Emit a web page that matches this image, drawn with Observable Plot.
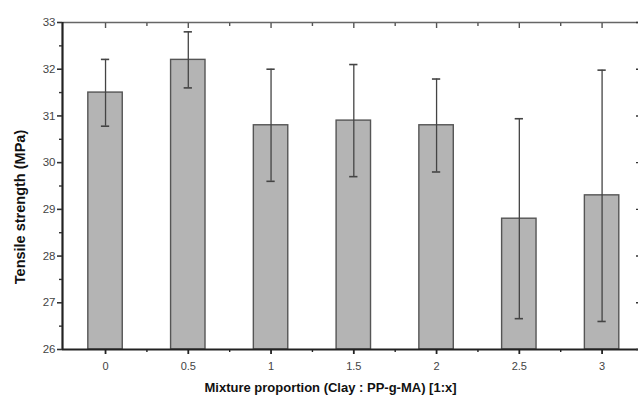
<!DOCTYPE html>
<html>
<head>
<meta charset="utf-8">
<script src="https://cdn.jsdelivr.net/npm/d3@7"></script>
<script src="https://cdn.jsdelivr.net/npm/@observablehq/plot@0.6"></script>
<style>
  html, body { margin: 0; padding: 0; background: #fff; }
  #chart { width: 638px; height: 397px; }
</style>
</head>
<body>
<div id="chart"></div>
<script>
// Data
const proportions = [0, 0.5, 1, 1.5, 2, 2.5, 3];
const tensile      = [31.5, 32.2, 30.8, 30.9, 30.8, 28.8, 29.3];
const errLow       = [30.78, 31.6, 29.6, 29.7, 29.8, 26.66, 26.6];
const errHigh      = [32.21, 32.8, 32.0, 32.1, 31.79, 30.94, 31.98];
const xTickLabels  = ["0", "0.5", "1", "1.5", "2", "2.5", "3"];
const yTicks       = [26, 27, 28, 29, 30, 31, 32, 33];
const yMinorTicks  = [26.5, 27.5, 28.5, 29.5, 30.5, 31.5, 32.5];
const xMinorTicks  = [0.25, 0.75, 1.25, 1.75, 2.25, 2.75];

const halfWidth = 0.104;
const capHalf = 0.025;
const data = proportions.map((p, i) => ({
  p, v: tensile[i], lo: errLow[i], hi: errHigh[i],
  x1: p - halfWidth, x2: p + halfWidth,
  c1: p - capHalf, c2: p + capHalf
}));

const width = 638, height = 397;
const marginLeft = 62, marginRight = 0, marginTop = 22, marginBottom = 48;

const chart = Plot.plot({
  width, height, marginLeft, marginRight, marginTop, marginBottom,
  style: { fontFamily: "Liberation Sans, Arial, sans-serif", background: "#fff", overflow: "visible" },
  x: { type: "linear", domain: [-0.26, 3.22], axis: null },
  y: { type: "linear", domain: [26, 33], axis: null },
  marks: [
    // bars
    Plot.rectY(data, { x1: "x1", x2: "x2", y1: () => 26, y2: "v", fill: "#b4b4b4", stroke: "#555", strokeWidth: 1.4 }),
    // error bars
    Plot.ruleX(data, { x: "p", y1: "lo", y2: "hi", stroke: "#444", strokeWidth: 1.3 }),
    Plot.ruleY(data, { y: "hi", x1: "c1", x2: "c2", stroke: "#444", strokeWidth: 1.6 }),
    Plot.ruleY(data, { y: "lo", x1: "c1", x2: "c2", stroke: "#444", strokeWidth: 1.6 }),
    // frame lines
    Plot.ruleY([33], { stroke: "#666", strokeWidth: 1.6 }),
    Plot.ruleY([26], { stroke: "#222", strokeWidth: 2.2 }),
    Plot.ruleX([-0.26], { stroke: "#222", strokeWidth: 2.2 }),
    // left axis: major ticks outward + labels
    Plot.axisY(yTicks, { anchor: "left", tickSize: 5, tickPadding: 2, stroke: "#333", strokeWidth: 1.6,
      fontSize: 11.5, fill: "#444", tickFormat: d => String(d) }),
    Plot.axisY(yMinorTicks, { anchor: "left", tickSize: 3, stroke: "#333", strokeWidth: 1.4, text: null }),
    // right axis: ticks inward
    Plot.axisY(yTicks, { anchor: "right", tickSize: -3, stroke: "#333", strokeWidth: 1.4, text: null }),
    // bottom axis
    Plot.axisX(proportions, { anchor: "bottom", tickSize: 5, tickPadding: 8, stroke: "#222", strokeWidth: 1.8,
      fontSize: 11, fill: "#444", tickFormat: (d, i) => xTickLabels[i] }),
    Plot.axisX(xMinorTicks, { anchor: "bottom", tickSize: 3, stroke: "#222", strokeWidth: 1.4, text: null }),
    // top axis: ticks inward
    Plot.axisX(proportions, { anchor: "top", tickSize: -5, stroke: "#555", strokeWidth: 1.4, text: null }),
    Plot.axisX(xMinorTicks, { anchor: "top", tickSize: -3, stroke: "#555", strokeWidth: 1.4, text: null }),
    // axis titles
    Plot.text(["Tensile strength (MPa)"], { frameAnchor: "left", textAnchor: "middle", dx: -42, dy: 21, rotate: -90,
      fontSize: 14.5, fontWeight: "bold", fill: "#111", letterSpacing: -0.3 }),
    Plot.text(["Mixture proportion (Clay : PP-g-MA) [1:x]"], { frameAnchor: "bottom", dx: -20, dy: 42,
      fontSize: 13, fontWeight: "bold", fill: "#111", letterSpacing: -0.3 })
  ]
});

document.getElementById("chart").appendChild(chart);
</script>
</body>
</html>
